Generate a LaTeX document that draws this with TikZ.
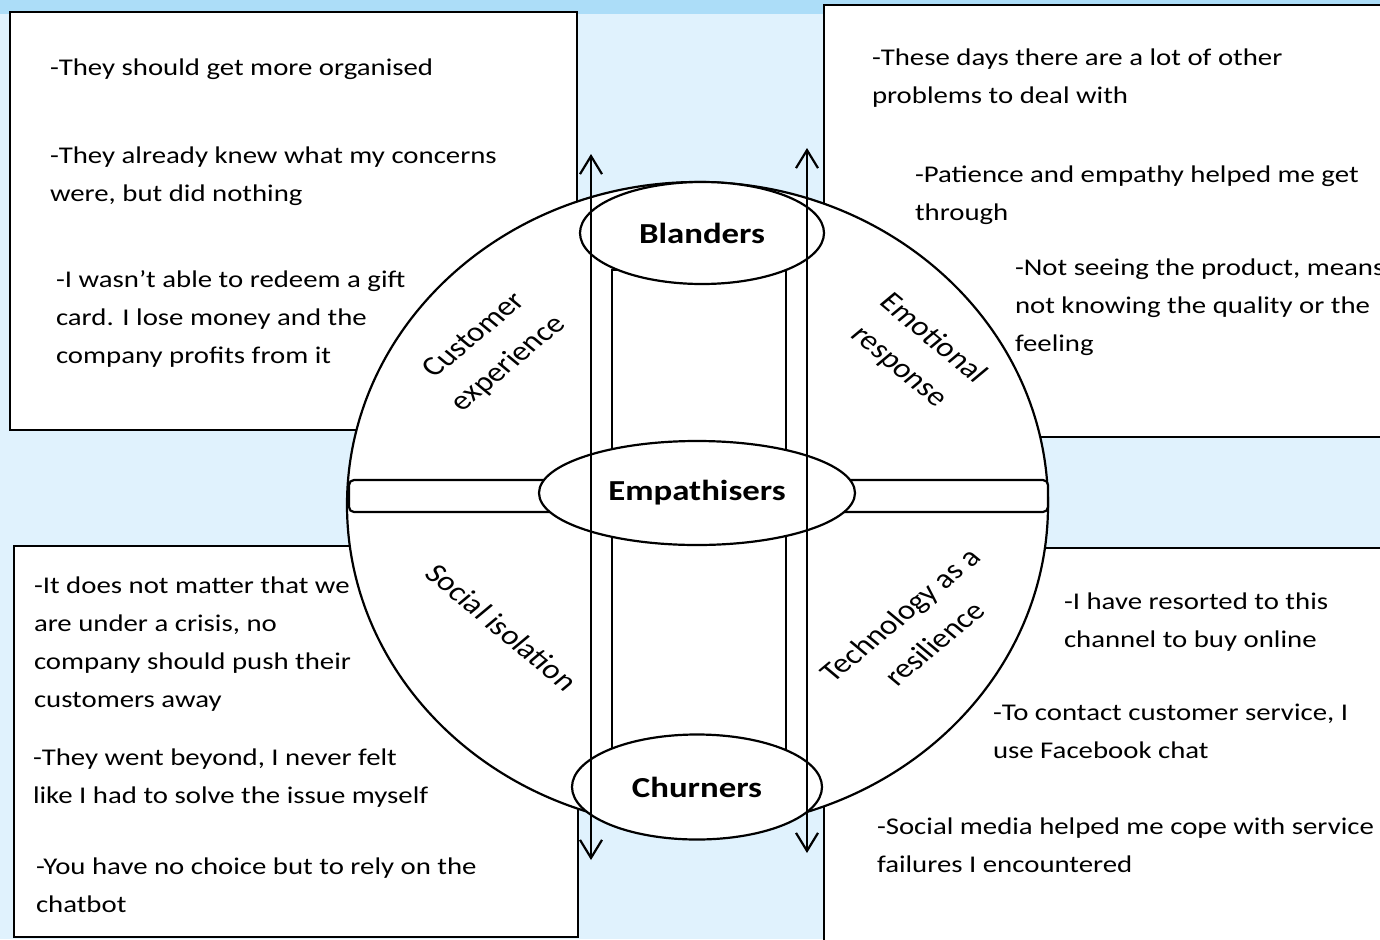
\documentclass[tikz,border=0pt]{standalone}
\usepackage{fontspec}
\setmainfont{Carlito}[FakeStretch=1.2]
\newfontfamily\labelfont{Carlito}
\usetikzlibrary{arrows.meta,shapes.geometric}
\definecolor{bgblue}{HTML}{E0F2FD}
\definecolor{stripblue}{HTML}{ACDDF8}
\begin{document}
\begin{tikzpicture}[x=1pt,y=-1pt,
  panel/.style={draw=black, fill=white, line width=2.2pt},
  quote/.style={anchor=base west, inner sep=0pt, outer sep=0pt, align=left, font=\fontsize{24}{38}\selectfont},
  theme/.style={inner sep=0pt, align=center, font=\labelfont\fontsize{27.5}{40}\selectfont, transform shape},
  group/.style={ellipse, draw=black, fill=white, line width=2.2pt, inner sep=0pt, font=\bfseries\fontsize{29}{29}\selectfont},
  bar/.style={draw=black, fill=white, line width=2.2pt, inner sep=0pt},
  axis/.style={line width=2.2pt, {Straight Barb[length=18pt,width=22pt]}-{Straight Barb[length=18pt,width=22pt]}}
]
\useasboundingbox (0,0) rectangle (1380,939);
\clip (0,0) rectangle (1380,939);
\fill[bgblue] (0,0) rectangle (1380,939);
\fill[stripblue] (0,0) rectangle (1380,14);

% panels
\draw[panel] (10,12) rectangle (577,430);
\draw[panel] (824,5) rectangle (1400,437);
\draw[panel] (14,546) rectangle (578,937);
\draw[panel] (824,548) rectangle (1400,960);

% quotes (anchor = baseline of the last line)
\node[quote] (q1) at (50,76) {-They should get more organised};
\node[quote] (q2) at (50,201) {-They already knew what my concerns\\were, but did nothing};
\node[quote] (q3) at (56,363) {-I wasn’t able to redeem a gift\\card. I lose money and the\\company profits from it};
\node[quote] (q4) at (872,104) {-These days there are a lot of other\\problems to deal with};
\node[quote] (q5) at (915,220) {-Patience and empathy helped me get\\through};
\node[quote] (q6) at (1015,351) {-Not seeing the product, means\\not knowing the quality or the\\feeling};
\node[quote] (q7) at (34,707) {-It does not matter that we\\are under a crisis, no\\company should push their\\customers away};
\node[quote] (q8) at (33,803) {-They went beyond, I never felt\\like I had to solve the issue myself};
\node[quote] (q9) at (36,912) {-You have no choice but to rely on the\\chatbot};
\node[quote] (q10) at (1064,647) {-I have resorted to this\\channel to buy online};
\node[quote] (q11) at (993,758) {-To contact customer service, I\\use Facebook chat};
\node[quote] (q12) at (877,872) {-Social media helped me cope with service\\failures I encountered};

% wheel
\node[ellipse, draw=black, fill=white, line width=2.2pt, inner sep=0pt,
      minimum width=701pt, minimum height=646pt] (wheel) at (697.5,505) {};
\node[bar, rounded corners=5pt, minimum width=699pt, minimum height=32pt] (hbar) at (698.5,496) {};
\node[bar, minimum width=174pt, minimum height=480pt] (vbar) at (699,510) {};

% themes
\begin{scope}[shift={(492,350)}, xscale=1.2]
\node[theme, rotate=45] (custexp) at (0,0) {Customer\\experience};
\end{scope}
\begin{scope}[shift={(916,353)}, xscale=1.2]
\node[theme, rotate=-45] (emoresp) at (0,0) {Emotional\\response};
\end{scope}
\begin{scope}[shift={(502,627)}, xscale=1.2]
\node[theme, rotate=-45] (socis) at (0,0) {Social isolation};
\end{scope}
\begin{scope}[shift={(917,629)}, xscale=1.2]
\node[theme, rotate=45] (techres) at (0,0) {Technology as a\\resilience};
\end{scope}

% groups
\node[group, minimum width=244pt, minimum height=102pt] (blanders) at (702,233) {Blanders};
\node[group, minimum width=316pt, minimum height=104pt] (empath) at (697,493) {Empathisers};
\node[group, minimum width=250pt, minimum height=105pt] (churners) at (697,787) {Churners};

% axes
\coordinate (upA) at (591,154);
\coordinate (downA) at (591,860);
\coordinate (upB) at (807,148);
\coordinate (downB) at (807,853);
\draw[axis] (downA) -- (upA);
\draw[axis] (downB) -- (upB);
\end{tikzpicture}
\end{document}
